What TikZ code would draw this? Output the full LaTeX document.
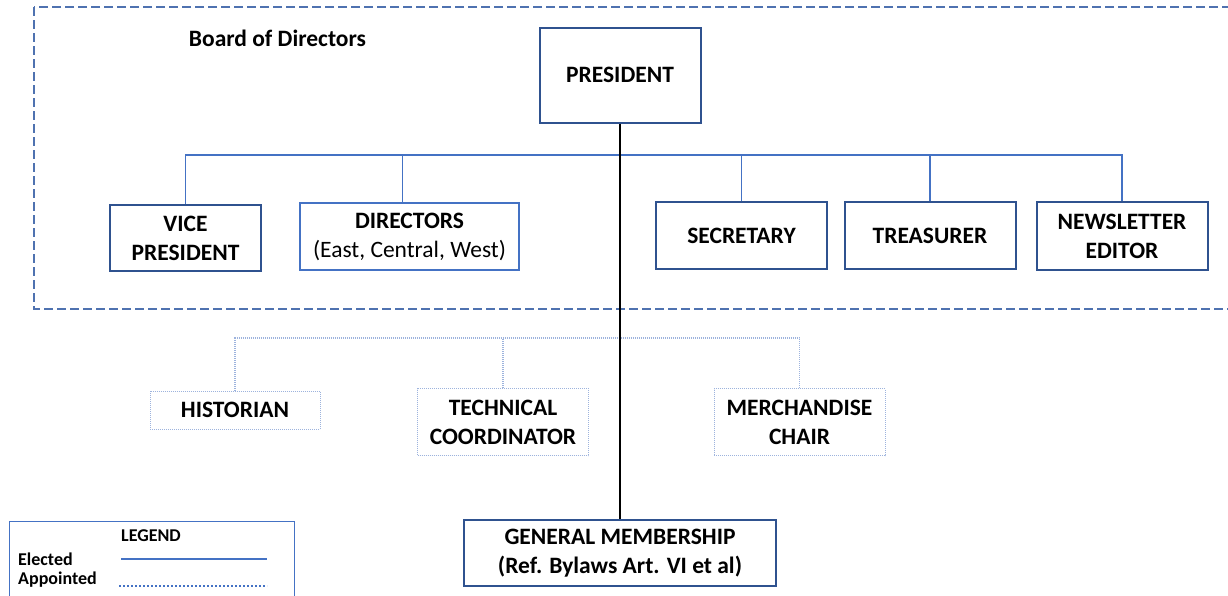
\documentclass[tikz,border=0pt]{standalone}
\usepackage{fontspec}
\setmainfont{Carlito}
\usepackage{tikz}
\definecolor{DarkBox}{HTML}{2F528F}
\definecolor{LineBlue}{HTML}{4472C4}
\definecolor{BoardBlue}{HTML}{4F72B0}
\definecolor{DotBlue}{HTML}{9DB3DD}

\begin{document}
\begin{tikzpicture}[x=1pt, y=-1pt,
      every node/.append style={font=\bfseries\fontsize{23.5}{29}\selectfont, align=center, inner sep=0pt},
      elected/.style={draw=DarkBox, line width=2pt, fill=white},
      appointed/.style={draw=DotBlue, line width=1pt, dash pattern=on 1pt off 1pt, fill=white},
      elect/.style={draw=LineBlue, line width=1.1pt},
      appoint/.style={draw=DotBlue, line width=1.2pt, dash pattern=on 1pt off 1pt},
      legendtext/.style={font=\bfseries\fontsize{18}{22}\selectfont}]
    \useasboundingbox (0,0) rectangle (1228,595);

    % board of directors frame
    \draw[BoardBlue, line width=1.2pt, dash pattern=on 9pt off 4pt] (34,7) rectangle (1234,309);
    \node (board) at (277.5,38) {Board of Directors};

    % trunk down to the membership
    \coordinate (bus) at (620,155);
    \coordinate (abus) at (620,338);

    % elected officers
    \node[elected, minimum width=161, minimum height=95] (pres) at (620,75) {PRESIDENT};
    \node[elected, minimum width=151, minimum height=66] (vp) at (185.5,238) {VICE\\PRESIDENT};
    \node[draw=LineBlue, line width=1.6pt, fill=white, minimum width=219, minimum height=67] (dir) at (409.5,236.5)
      {DIRECTORS\\\mdseries(East, Central, West)};
    \node[elected, minimum width=171, minimum height=67] (sec) at (741.5,235.5) {SECRETARY};
    \node[elected, minimum width=171, minimum height=67] (tre) at (930,235.5) {TREASURER};
    \node[elected, minimum width=171, minimum height=68] (nl) at (1122,236) {NEWSLETTER\\EDITOR};

    \draw[elect] (vp.north) |- (bus) -| (nl.north);
    \draw[elect] ([xshift=-7pt]dir.north) -- ([xshift=-7pt]dir.north |- bus);
    \foreach \n in {sec,tre}
      \draw[elect] (\n.north) -- (\n.north |- bus);

    % appointed positions
    \node[appointed, minimum width=170, minimum height=38] (hist) at (235,410) {HISTORIAN};
    \node[appointed, minimum width=171, minimum height=67] (tech) at (503,422) {TECHNICAL\\COORDINATOR};
    \node[appointed, minimum width=171, minimum height=67] (merch) at (799.5,422) {MERCHANDISE\\CHAIR};

    \draw[appoint] (hist.north) |- (abus) -| (merch.north);
    \draw[appoint] (tech.north) -- (tech.north |- abus);

    % membership
    \node[elected, minimum width=312, minimum height=66] (gen) at (620,553)
      {GENERAL MEMBERSHIP\\(Ref. Bylaws Art. VI et al)};
    \draw[black, line width=1.2pt] (pres) -- (gen);

    % legend
    \draw[LineBlue, line width=1pt] (9,521) rectangle (294,600);
    \node[legendtext] (lg) at (151,536) {LEGEND};
    \node[legendtext, anchor=west] (el) at (18,559) {Elected};
    \node[legendtext, anchor=west] (ap) at (18,580) {Appointed};
    \coordinate (el0) at (121,559);
    \coordinate (el1) at (267,559);
    \coordinate (ap0) at (119,586);
    \coordinate (ap1) at (267,586);
    \draw[elect] (el0) -- (el1);
    \draw[LineBlue, line width=1.6pt, dash pattern=on 1.6pt off 2.4pt] (ap0) -- (ap1);
\end{tikzpicture}
\end{document}
